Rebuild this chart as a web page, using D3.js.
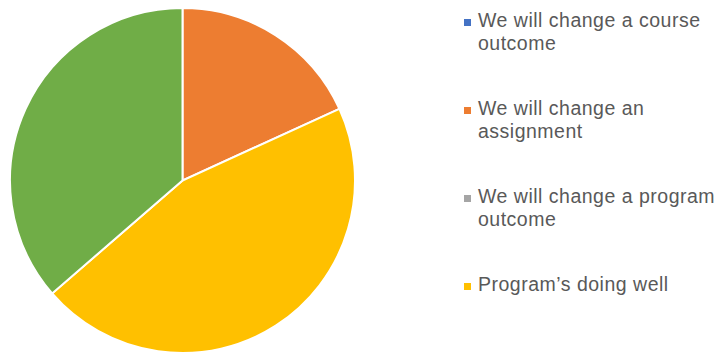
<html>
<head>
<script src="https://d3js.org/d3.v7.min.js"></script>
<style>
  body { margin: 0; background: #fff; }
</style>
</head>
<body>
<svg width="723" height="354"></svg>
<script>

var categories = ["We will change a course outcome",
                  "We will change an assignment",
                  "We will change a program outcome",
                  "Program\u2019s doing well",
                  "Other"];
var values = [0, 2, 0, 5, 4];
var colors = ["#4472c4", "#ed7d31", "#a5a5a5", "#ffc000", "#70ad47"];
// legend is cut off in the original after 4 entries, wrapped over two lines
var legendLines = [["We will change a course", "outcome"],
                   ["We will change an", "assignment"],
                   ["We will change a program", "outcome"],
                   ["Program\u2019s doing well"]];

var data = categories.map(function(c, i) { return {name: c, value: values[i], color: colors[i]}; });

var svg = d3.select("svg");

var pie = d3.pie().sort(null).value(d => d.value);
var arc = d3.arc().innerRadius(0).outerRadius(172.5);

svg.append("g").attr("transform", "translate(182.5,180.5)")
  .selectAll("path")
  .data(pie(data).filter(d => d.data.value > 0))
  .join("path")
    .attr("d", arc)
    .attr("fill", d => d.data.color)
    .attr("stroke", "#fff")
    .attr("stroke-width", 2);

var legend = svg.append("g").attr("transform", "translate(464,27)")
  .selectAll("g")
  .data(legendLines)
  .join("g")
    .attr("transform", (d, i) => "translate(0," + (i * 88) + ")");

legend.append("rect")
  .attr("x", 0)
  .attr("y", -8)
  .attr("width", 7)
  .attr("height", 7)
  .attr("fill", (d, i) => colors[i]);

legend.append("text")
  .attr("x", 14)
  .attr("y", 0)
  .style("font-family", "Liberation Sans, Arial, sans-serif")
  .style("font-size", "19.5px")
  .style("letter-spacing", "0.5px")
  .attr("fill", "#595959")
  .selectAll("tspan")
  .data(d => d)
  .join("tspan")
    .attr("x", 14)
    .attr("dy", (d, i) => i == 0 ? 0 : 23)
    .text(d => d);
</script>
</body>
</html>
